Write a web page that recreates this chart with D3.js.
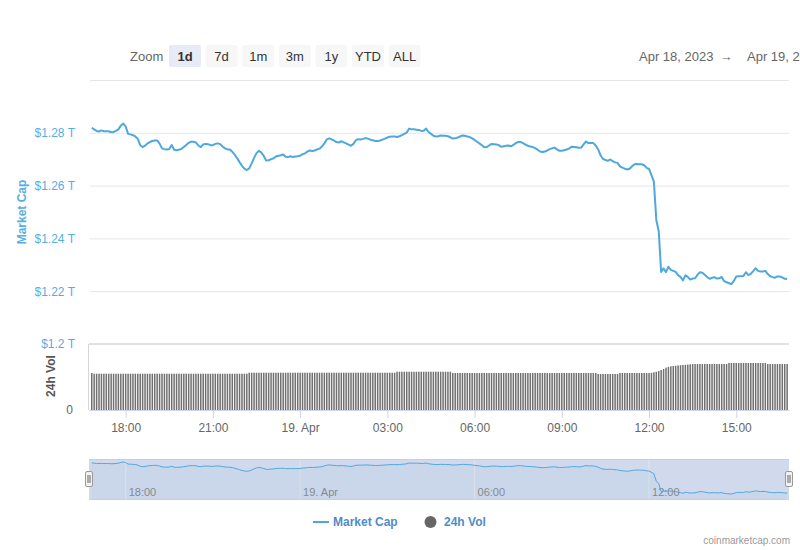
<!DOCTYPE html>
<html><head><meta charset="utf-8">
<script src="https://cdn.jsdelivr.net/npm/d3@7"></script>
<style>body{margin:0;background:#fff}svg{display:block;font-family:"Liberation Sans",Arial,sans-serif}</style>
</head><body><svg id="c" width="800" height="550"></svg>
<script>
// ---------- DATA ----------
const startTime = "2023-04-18T16:50:00Z";   // first 5-minute sample
const stepMinutes = 5;
// Total market cap, trillions USD (5-minute samples)
const marketCap = [
1.2819,1.2813,1.2807,1.2805,1.2809,1.2806,1.2806,1.2806,1.2802,1.2803,
1.2807,1.2813,1.2827,1.2835,1.2824,1.2796,1.2794,1.2791,1.2786,1.2777,
1.2753,1.2746,1.2751,1.2760,1.2765,1.2769,1.2771,1.2771,1.2759,1.2741,
1.2738,1.2737,1.2739,1.2754,1.2736,1.2734,1.2736,1.2739,1.2746,1.2754,
1.2762,1.2766,1.2766,1.2763,1.2752,1.2746,1.2756,1.2758,1.2757,1.2753,
1.2753,1.2758,1.2760,1.2757,1.2748,1.2741,1.2737,1.2737,1.2728,1.2717,
1.2704,1.2689,1.2675,1.2664,1.2659,1.2665,1.2684,1.2705,1.2723,1.2732,
1.2725,1.2712,1.2695,1.2696,1.2700,1.2703,1.2710,1.2713,1.2715,1.2718,
1.2709,1.2708,1.2711,1.2708,1.2710,1.2711,1.2713,1.2719,1.2722,1.2729,
1.2733,1.2731,1.2733,1.2737,1.2740,1.2748,1.2760,1.2775,1.2779,1.2775,
1.2770,1.2765,1.2763,1.2768,1.2764,1.2760,1.2755,1.2751,1.2758,1.2772,
1.2776,1.2775,1.2777,1.2780,1.2778,1.2774,1.2772,1.2769,1.2769,1.2771,
1.2774,1.2778,1.2782,1.2785,1.2786,1.2786,1.2784,1.2787,1.2791,1.2796,
1.2801,1.2816,1.2813,1.2813,1.2812,1.2811,1.2807,1.2808,1.2816,1.2803,
1.2796,1.2789,1.2786,1.2787,1.2790,1.2789,1.2789,1.2787,1.2783,1.2778,
1.2779,1.2782,1.2786,1.2790,1.2789,1.2786,1.2784,1.2779,1.2773,1.2766,
1.2760,1.2753,1.2745,1.2746,1.2752,1.2758,1.2757,1.2756,1.2753,1.2747,
1.2749,1.2751,1.2752,1.2749,1.2754,1.2761,1.2765,1.2765,1.2761,1.2755,
1.2751,1.2748,1.2746,1.2742,1.2736,1.2729,1.2727,1.2729,1.2733,1.2738,
1.2741,1.2744,1.2737,1.2732,1.2732,1.2734,1.2737,1.2740,1.2747,1.2746,
1.2745,1.2743,1.2744,1.2756,1.2767,1.2761,1.2761,1.2761,1.2752,1.2737,
1.2715,1.2701,1.2697,1.2694,1.2699,1.2693,1.2688,1.2686,1.2673,1.2668,
1.2664,1.2661,1.2664,1.2673,1.2681,1.2682,1.2681,1.2681,1.2677,1.2667,
1.2663,1.2640,1.2615,1.2470,1.2427,1.2273,1.2287,1.2272,1.2292,1.2281,
1.2277,1.2273,1.2261,1.2254,1.2241,1.2260,1.2254,1.2244,1.2248,1.2249,
1.2262,1.2272,1.2270,1.2262,1.2254,1.2247,1.2251,1.2253,1.2248,1.2249,
1.2254,1.2238,1.2234,1.2230,1.2227,1.2239,1.2256,1.2257,1.2257,1.2258,
1.2272,1.2261,1.2266,1.2276,1.2287,1.2277,1.2275,1.2275,1.2277,1.2265,
1.2257,1.2253,1.2251,1.2256,1.2256,1.2252,1.2247,1.2246
];
// 24h volume, billions USD (5-minute samples)
const volume = [
67.3,
66,66,66,66,66,66,66,66,66,66,66,66,66,66,66,66,
66,66,66,66,66,66,66,66,66,66,66,66,66,66,66,66,
66,66,66,66,66,66,66,66,66,66,66,66,66,66,66,66,
66,66,66,66,66,66,66,66,66,66,66,66,66,66,66,66,
67.8,67.8,67.8,67.8,67.8,67.8,67.8,67.8,67.8,67.8,
67.8,67.8,67.8,67.8,67.8,67.8,67.8,67.8,67.8,67.8,
67.8,67.8,67.8,67.8,67.8,67.8,67.8,67.8,67.8,67.8,
67.8,67.8,67.8,67.8,67.8,67.8,67.8,67.8,67.8,67.8,
67.8,67.8,67.8,67.8,67.8,67.8,67.8,67.8,67.8,67.8,
67.8,67.8,67.8,67.8,67.8,67.8,67.8,67.8,67.8,67.8,
67.8,
69.6,69.6,69.6,69.6,69.6,69.6,69.6,69.6,69.6,69.6,
69.6,69.6,69.6,69.6,69.6,69.6,69.6,69.6,69.6,69.6,
69.6,69.6,69.6,
67.3,67.3,67.3,67.3,67.3,67.3,67.3,67.3,67.3,67.3,
67.3,67.3,67.3,67.3,67.3,67.3,67.3,67.3,67.3,67.3,
67.3,67.3,67.3,67.3,67.3,67.3,67.3,67.3,67.3,67.3,
67.3,67.3,67.3,67.3,67.3,67.3,67.3,67.3,67.3,67.3,
67.3,67.3,67.3,67.3,67.3,67.3,67.3,67.3,67.3,67.3,
67.3,67.3,67.3,67.3,67.3,67.3,67.3,67.3,67.3,67.3,
65.5,65.5,65.5,65.5,65.5,65.5,65.5,65.5,65.5,
67.3,67.3,67.3,67.3,67.3,67.3,67.3,67.3,67.3,67.3,
67.3,67.3,67.3,
67.5,68.6,69.6,71,72.7,74.5,77,78.5,79.5,80,80.5,81,81.5,81.8,82.2,82.6,83,
83.6,83.6,83.6,83.6,83.6,83.6,83.6,83.6,83.6,83.6,
83.6,83.6,83.6,83.6,83.6,
85.5,85.5,85.5,85.5,85.5,85.5,85.5,85.5,85.5,85.5,
85.5,85.5,85.5,85.5,85.5,85.5,
83.6,83.6,83.6,83.6,83.6,83.6,83.6,83.6,83.6
];
const mainTickTimes = ["2023-04-18T18:00:00Z","2023-04-18T21:00:00Z","2023-04-19T00:00:00Z","2023-04-19T03:00:00Z",
                       "2023-04-19T06:00:00Z","2023-04-19T09:00:00Z","2023-04-19T12:00:00Z","2023-04-19T15:00:00Z"];
const mainTickLabels = ["18:00","21:00","19. Apr","03:00","06:00","09:00","12:00","15:00"];
const navTickTimes = ["2023-04-18T18:00:00Z","2023-04-19T00:00:00Z","2023-04-19T06:00:00Z","2023-04-19T12:00:00Z"];
const navTickLabels = ["18:00","19. Apr","06:00","12:00"];
const capTicks = [1.2, 1.22, 1.24, 1.26, 1.28, 1.3];
const capTickLabels = ["$1.2 T","$1.22 T","$1.24 T","$1.26 T","$1.28 T",""];
const volTicks = [0];
const volTickLabels = ["0"];
const zoomButtons = ["1d","7d","1m","3m","1y","YTD","ALL"];
const selectedButton = "1d";
const dateFrom = "Apr 18, 2023";
const dateTo = "Apr 19, 2023";
const seriesNames = ["Market Cap","24h Vol"];
const credit = "coinmarketcap.com";

// ---------- STYLE ----------
const BLUE = "#4fa8dd", LABEL_BLUE = "#56aee0", GRID = "#e6e6e6", BAR = "#707070";

const t0 = new Date(startTime).getTime();
const capData = marketCap.map((v,i)=>({t:new Date(t0+i*stepMinutes*60000), v}));
const volData = volume.map((v,i)=>({t:new Date(t0+i*stepMinutes*60000), v}));

const svg = d3.select("#c");
svg.append("rect").attr("width",800).attr("height",550).attr("fill","#fff");

const x = d3.scaleUtc().domain([new Date("2023-04-18T16:44:20Z"), new Date("2023-04-19T16:48:50Z")]).range([89,789]);
const yCap = d3.scaleLinear().domain([1.2,1.3]).range([344,80]);
const yVol = d3.scaleLinear().domain([0,120]).range([410,344]);

// toolbar
const tb = svg.append("g");
tb.append("text").attr("x",130).attr("y",61).attr("font-size",13).attr("fill","#666").text("Zoom");
zoomButtons.forEach((b,i)=>{
  const bx = 169 + i*36.6;
  const sel = b===selectedButton;
  tb.append("rect").attr("x",bx).attr("y",45).attr("width",32).attr("height",22).attr("rx",2)
    .attr("fill", sel?"#e6ebf5":"#f7f7f7");
  tb.append("text").attr("x",bx+16).attr("y",61).attr("text-anchor","middle").attr("font-size",13)
    .attr("font-weight", sel?"bold":"normal").attr("fill","#333").text(b);
});
tb.append("text").attr("x",639).attr("y",61).attr("font-size",13).attr("fill","#666").text(dateFrom);
tb.append("text").attr("x",726).attr("y",61).attr("text-anchor","middle").attr("font-size",13).attr("fill","#666").text("→");
tb.append("text").attr("x",747).attr("y",61).attr("font-size",13).attr("fill","#666").text(dateTo);

// main y axis with grid
const capAxis = d3.axisLeft(yCap).tickValues(capTicks).tickSize(-700).tickPadding(14)
  .tickFormat((d,i)=>capTickLabels[i]);
const gCap = svg.append("g").attr("transform","translate(89,0)").call(capAxis);
gCap.select(".domain").remove();
gCap.selectAll(".tick line").attr("stroke",GRID).attr("x1",1);
gCap.selectAll(".tick text").attr("fill",LABEL_BLUE).attr("font-size",12).attr("font-family","Liberation Sans, Arial, sans-serif");

// volume pane top border
svg.append("line").attr("x1",89).attr("x2",789).attr("y1",yVol(120)).attr("y2",yVol(120))
  .attr("stroke","#e2e2e2").attr("stroke-width",2);
// volume axis
const volAxis = d3.axisLeft(yVol).tickValues(volTicks).tickSize(0).tickPadding(16).tickFormat((d,i)=>volTickLabels[i]);
const gVol = svg.append("g").attr("transform","translate(89,0)").call(volAxis);
gVol.select(".domain").remove();
gVol.selectAll(".tick text").attr("fill","#666").attr("font-size",12).attr("font-family","Liberation Sans, Arial, sans-serif");
svg.append("line").attr("x1",88.5).attr("x2",88.5).attr("y1",344).attr("y2",410).attr("stroke","#d6d6d6");

// volume bars
svg.append("g").selectAll("rect").data(volData).join("rect")
  .attr("x",d=>x(d.t)-0.75).attr("width",1.5)
  .attr("y",d=>yVol(d.v)).attr("height",d=>yVol(0)-yVol(d.v)).attr("fill",BAR);

// x axis
const xAxis = d3.axisBottom(x).tickValues(mainTickTimes.map(s=>new Date(s))).tickSize(8).tickPadding(5).tickSizeOuter(0)
  .tickFormat((d,i)=>mainTickLabels[i]);
const gx = svg.append("g").attr("transform","translate(0,410)").call(xAxis);
gx.select(".domain").attr("stroke","#ccd6eb");
gx.selectAll(".tick line").attr("stroke","#ccd6eb");
gx.selectAll(".tick text").attr("fill","#666").attr("font-size",12).attr("font-family","Liberation Sans, Arial, sans-serif");

// market cap line
const line = d3.line().x(d=>x(d.t)).y(d=>yCap(d.v));
svg.append("path").datum(capData).attr("d",line).attr("fill","none").attr("stroke",BLUE)
  .attr("stroke-width",2).attr("stroke-linejoin","round");

// axis titles
svg.append("text").attr("transform","translate(26,212) rotate(-90)").attr("text-anchor","middle")
  .attr("font-size",12).attr("font-weight","bold").attr("fill",LABEL_BLUE).text(seriesNames[0]);
svg.append("text").attr("transform","translate(54.5,376) rotate(-90)").attr("text-anchor","middle")
  .attr("font-size",12).attr("font-weight","bold").attr("fill","#555").text(seriesNames[1]);

// navigator
const nav = svg.append("g");
nav.append("rect").attr("x",89).attr("y",459).attr("width",700).attr("height",40).attr("fill","rgba(102,133,194,0.3)");
navTickTimes.forEach((s,i)=>{
  const tx = x(new Date(s));
  nav.append("line").attr("x1",tx).attr("x2",tx).attr("y1",459).attr("y2",499).attr("stroke","#e6e6e6").attr("stroke-opacity",0.8);
  nav.append("text").attr("x",tx+3).attr("y",496).attr("font-size",11).attr("fill","#888").text(navTickLabels[i]);
});
const yNav = d3.scaleLinear().domain(d3.extent(marketCap)).range([494,462]);
nav.append("path").datum(capData).attr("d",d3.area().x(d=>x(d.t)).y0(499).y1(d=>yNav(d.v)))
  .attr("fill",BLUE).attr("fill-opacity",0.05);
nav.append("path").datum(capData).attr("d",d3.line().x(d=>x(d.t)).y(d=>yNav(d.v)))
  .attr("fill","none").attr("stroke",BLUE).attr("stroke-width",1);
nav.append("line").attr("x1",89).attr("x2",789).attr("y1",459.5).attr("y2",459.5).attr("stroke","#cfcfcf");
nav.append("line").attr("x1",89).attr("x2",789).attr("y1",499.5).attr("y2",499.5).attr("stroke","#cfcfcf");
[89,789].forEach(hx=>{
  nav.append("rect").attr("x",hx-3.5).attr("y",471.5).attr("width",7).attr("height",15).attr("rx",1.5)
    .attr("fill","#f2f2f2").attr("stroke","#999");
  nav.append("line").attr("x1",hx-1).attr("x2",hx-1).attr("y1",475).attr("y2",483).attr("stroke","#666");
  nav.append("line").attr("x1",hx+1).attr("x2",hx+1).attr("y1",475).attr("y2",483).attr("stroke","#666");
});

// legend
const lg = svg.append("g");
lg.append("line").attr("x1",313).attr("x2",329).attr("y1",522).attr("y2",522).attr("stroke",BLUE).attr("stroke-width",2);
lg.append("text").attr("x",333).attr("y",526).attr("font-size",12).attr("font-weight","bold").attr("fill","#4f8cc9").text(seriesNames[0]);
lg.append("circle").attr("cx",430.5).attr("cy",522).attr("r",6).attr("fill","#666");
lg.append("text").attr("x",444).attr("y",526).attr("font-size",12).attr("font-weight","bold").attr("fill","#4f8cc9").text(seriesNames[1]);

svg.append("text").attr("x",790).attr("y",544).attr("text-anchor","end").attr("font-size",10).attr("fill","#999").text(credit);
</script></body></html>
